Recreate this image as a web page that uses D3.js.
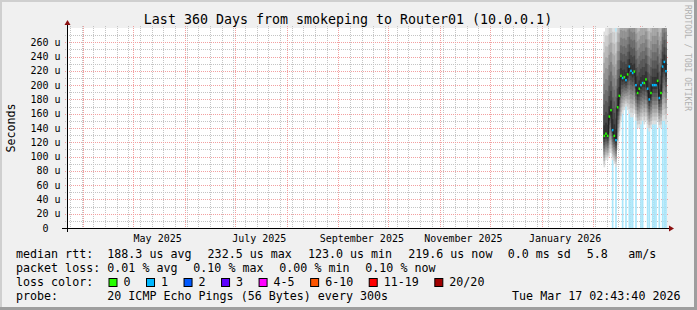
<!DOCTYPE html>
<html><head><meta charset="utf-8">
<script src="https://cdn.jsdelivr.net/npm/d3@7/dist/d3.min.js"></script>
<style>
html,body{margin:0;padding:0;background:#f0f0f0;}
svg{display:block;}
text{font-family:"DejaVu Sans Mono",monospace;}
</style></head><body>
<svg id="chart" width="697" height="310"></svg>
<script>
// ---------- DATA ----------
const chartTitle = "Last 360 Days from smokeping to Router01 (10.0.0.1)";
const yAxisTitle = "Seconds";
const sideText = "RRDTOOL / TOBI OETIKER";
const timeStart = "2025-03-22T02:43:40Z";
const timeEnd = "2026-03-17T02:43:40Z";
const yMax = 280; // microseconds
const yTickValues = [0,20,40,60,80,100,120,140,160,180,200,220,240,260];
const monthLabels = ["May 2025","July 2025","September 2025","November 2025","January 2026"];
const monthLabelDates = ["2025-05-15T12:00:00Z","2025-07-15T12:00:00Z","2025-09-15T00:00:00Z","2025-11-15T00:00:00Z","2026-01-15T00:00:00Z"];

const days = ["2026-02-07","2026-02-08","2026-02-09","2026-02-10","2026-02-11","2026-02-12","2026-02-13","2026-02-14",
  "2026-02-15","2026-02-16","2026-02-17","2026-02-18","2026-02-19","2026-02-20","2026-02-21","2026-02-22",
  "2026-02-23","2026-02-24","2026-02-25","2026-02-26","2026-02-27","2026-02-28","2026-03-01","2026-03-02",
  "2026-03-03","2026-03-04","2026-03-05","2026-03-06","2026-03-07","2026-03-08","2026-03-09","2026-03-10",
  "2026-03-11","2026-03-12","2026-03-13","2026-03-14","2026-03-15","2026-03-16"];
// median RTT (us)
const medianRtt = [129,132,129,156,165,137,129,123,169,185,213,210,211,207,215,226,220,217,219,200,189,195,200,203,
  203,208,195,180,189,200,200,200,206,182,189,226,232.5,219.6];
// lowest / highest ping of the smoke (us)
const smokeMin = [85,95,95,100,105,95,90,85,110,130,150,160,165,170,165,160,155,155,160,150,140,140,145,150,
  145,150,140,135,140,145,145,145,150,140,140,150,150,145];
const smokeMax = [275,285,285,300,300,290,290,275,300,310,320,320,320,320,320,330,330,330,330,320,310,310,315,315,
  315,320,310,300,310,315,315,315,320,305,310,330,335,330];
// lost pings out of 20
const lostPings = [0,0,0,0,0,1,0,1,0,0,0,1,0,1,0,1,1,1,0,1,0,0,1,1,0,0,1,1,0,1,1,1,0,1,0,1,1,1];

const lossLabels = ["0","1","2","3","4-5","6-10","11-19","20/20"];
const lossColors = ["#26ff00","#00b8ff","#0059ff","#5e00ff","#ff00ff","#ff5500","#ff0000","#a00000"];
const lossBarColor = "#aae6fa";
const smokeShades = ["#dddddd","#cacaca","#b7b7b7","#a4a4a4","#919191","#7e7e7e","#6b6b6b","#585858","#454545","#323232"];

const rttStats = ["188.3 us avg","232.5 us max","123.0 us min","219.6 us now"];
const rttExtra = ["0.0 ms sd","5.8","am/s"];
const lossStats = ["0.01 % avg","0.10 % max","0.00 % min","0.10 % now"];
const probeText = "20 ICMP Echo Pings (56 Bytes) every 300s";
const stampText = "Tue Mar 17 02:43:40 2026";

// ---------- LAYOUT ----------
const W = 697, H = 310;
const L = 67, R = 667, T = 28, B = 228;
const svg = d3.select("#chart");

svg.append("rect").attr("width",W).attr("height",H).attr("fill","#f0f0f0");
// 3D frame
svg.append("rect").attr("x",0).attr("y",0).attr("width",W).attr("height",2).attr("fill","#cfcfcf");
svg.append("rect").attr("x",0).attr("y",0).attr("width",2).attr("height",H).attr("fill","#cfcfcf");
svg.append("rect").attr("x",0).attr("y",H-3).attr("width",W).attr("height",3).attr("fill","#9e9e9e");
svg.append("rect").attr("x",W-3).attr("y",0).attr("width",3).attr("height",H).attr("fill","#9e9e9e");

svg.append("rect").attr("x",L).attr("y",T).attr("width",R-L).attr("height",B-T).attr("fill","#ffffff");

const x = d3.scaleUtc().domain([new Date(timeStart), new Date(timeEnd)]).range([L,R]);
const y = d3.scaleLinear().domain([0,yMax]).range([B,T]);

// grid
const grid = svg.append("g");
const minorY = d3.range(10, yMax, 20);
grid.selectAll(".hmin").data(minorY).enter().append("line")
  .attr("x1",L-2).attr("x2",R+2).attr("y1",d=>Math.round(y(d))+0.5).attr("y2",d=>Math.round(y(d))+0.5)
  .attr("stroke","#c4c4c4").attr("stroke-dasharray","1,1");
const weeks = d3.utcMonday.range(x.domain()[0], x.domain()[1]);
grid.selectAll(".vmin").data(weeks).enter().append("line")
  .attr("x1",d=>Math.round(x(d))+0.5).attr("x2",d=>Math.round(x(d))+0.5).attr("y1",T-2).attr("y2",B+2)
  .attr("stroke","#c4c4c4").attr("stroke-dasharray","1,1");
grid.selectAll(".hmaj").data(yTickValues.filter(v=>v>0)).enter().append("line")
  .attr("x1",L-2).attr("x2",R+2).attr("y1",d=>Math.round(y(d))+0.5).attr("y2",d=>Math.round(y(d))+0.5)
  .attr("stroke","#f2a0a0").attr("stroke-dasharray","1,1");
const months = d3.utcMonth.range(x.domain()[0], x.domain()[1]);
grid.selectAll(".vmaj").data(months).enter().append("line")
  .attr("x1",d=>Math.round(x(d))+0.5).attr("x2",d=>Math.round(x(d))+0.5).attr("y1",T-2).attr("y2",B+2)
  .attr("stroke","#f2a0a0").attr("stroke-dasharray","1,1");

// data
const parse = d3.utcParse("%Y-%m-%d");
const rows = days.map((d,i)=>({t0:parse(d), t1:d3.utcDay.offset(parse(d),1), med:medianRtt[i], lo:smokeMin[i], hi:smokeMax[i], loss:lostPings[i]}));
const plot = svg.append("g");
svg.append("clipPath").attr("id","pc").append("rect").attr("x",L).attr("y",T).attr("width",R-L).attr("height",B-T);
plot.attr("clip-path","url(#pc)");

function lossIndex(n){ if(n<=0) return 0; if(n<=1) return 1; if(n<=2) return 2; if(n<=3) return 3; if(n<=5) return 4; if(n<=10) return 5; if(n<=19) return 6; return 7; }

plot.selectAll(".lossbar").data(rows.filter(r=>r.loss>0)).enter().append("rect")
  .attr("x",r=>x(r.t0)).attr("width",r=>x(r.t1)-x(r.t0)).attr("y",T).attr("height",B-T)
  .attr("fill",lossBarColor);

smokeShades.forEach((c,k)=>{
  plot.selectAll(".sm"+k).data(rows).enter().append("rect")
    .attr("x",r=>x(r.t0)).attr("width",r=>x(r.t1)-x(r.t0))
    .attr("y",r=>y(r.hi-(r.hi-r.med)*k/10))
    .attr("height",r=>y(r.lo+(r.med-r.lo)*k/10)-y(r.hi-(r.hi-r.med)*k/10))
    .attr("fill",c);
});

const stepPts = rows.map(r=>[r.t0,r.med]).concat([[rows[rows.length-1].t1, rows[rows.length-1].med]]);
plot.append("path").datum(stepPts)
  .attr("d", d3.line().x(p=>x(p[0])).y(p=>y(p[1])).curve(d3.curveStepAfter))
  .attr("fill","none").attr("stroke","#202020").attr("stroke-width",1);

plot.selectAll(".med").data(rows).enter().append("rect")
  .attr("x",r=>x(r.t0)).attr("width",r=>x(r.t1)-x(r.t0))
  .attr("y",r=>y(r.med)-1.2).attr("height",2.4)
  .attr("fill",r=>lossColors[lossIndex(r.loss)]);

// axes
svg.append("line").attr("x1",L-5).attr("x2",R+3).attr("y1",B+0.5).attr("y2",B+0.5).attr("stroke","#000");
svg.append("line").attr("x1",L+0.5).attr("x2",L+0.5).attr("y1",B+4).attr("y2",T-4).attr("stroke","#000");
svg.append("path").attr("d",`M${R+2},${B-2.5} L${R+7},${B+0.5} L${R+2},${B+3.5} Z`).attr("fill","#8b1010");
svg.append("path").attr("d",`M${L-2.5},${T-3} L${L+0.5},${T-8} L${L+3.5},${T-3} Z`).attr("fill","#8b1010");

// y tick labels
svg.selectAll(".yl").data(yTickValues).enter().append("text")
  .attr("x",d=>d===0?48.5:60.5).attr("y",d=>y(d)+3.6).attr("text-anchor","end")
  .attr("font-size","10px").attr("fill","#000")
  .text(d=>d===0?"0":d+" u");

// x labels
svg.selectAll(".xl").data(monthLabels).enter().append("text")
  .attr("x",(d,i)=>x(new Date(monthLabelDates[i]))).attr("y",241.5).attr("text-anchor","middle")
  .attr("font-size","10px").attr("fill","#000").text(d=>d);

// title
svg.append("text").attr("x",348).attr("y",23.5).attr("text-anchor","middle").attr("font-size","13.3px").attr("fill","#000").text(chartTitle);
svg.append("text").attr("transform","translate(15,128) rotate(-90)").attr("text-anchor","middle").attr("font-size","11.66px").attr("fill","#000").text(yAxisTitle);
svg.append("text").attr("transform","translate(684.5,5) rotate(90)").attr("font-size","8px").attr("fill","#b0b0b0").text(sideText);

// legend
const fs = "11.66px";
const lg = svg.append("g").attr("font-size",fs).attr("fill","#000");
function t(xp,yp,s){ lg.append("text").attr("x",xp).attr("y",yp).attr("xml:space","preserve").text(s); }
t(16,258,"median rtt:");
rttStats.forEach((s,i)=>t(107.3+i*100.3,258,s));
t(507.7,258,rttExtra[0]); t(586.7,258,rttExtra[1]); t(628.3,258,rttExtra[2]);
t(16,272,"packet loss:");
lossStats.forEach((s,i)=>t(107.3+i*86,272,s));
t(16,286,"loss color:");
let bx = 108.5;
lossLabels.forEach((s,i)=>{
  lg.append("rect").attr("x",bx+0.5).attr("y",278.5).attr("width",8).attr("height",8).attr("fill",lossColors[i]).attr("stroke","#000").attr("stroke-width",1);
  t(bx+15,286,s);
  bx = bx + 15 + s.length*7.02 + 15.5;
});
t(16,300,"probe:");
t(107.3,300,probeText);
lg.append("text").attr("x",680.5).attr("y",300).attr("text-anchor","end").text(stampText);
</script>
</body></html>
